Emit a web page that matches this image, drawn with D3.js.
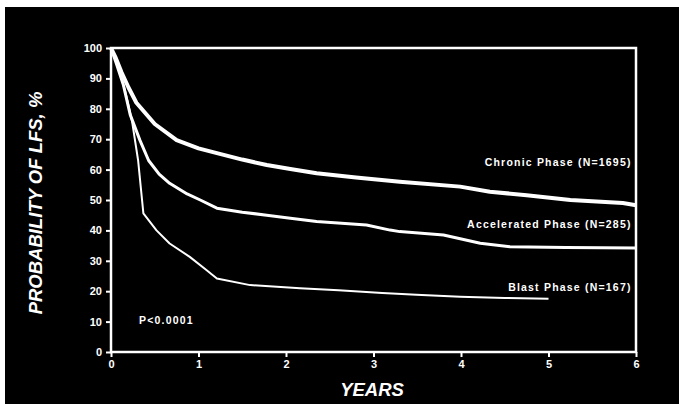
<!DOCTYPE html>
<html><head><meta charset="utf-8">
<script src="https://cdn.jsdelivr.net/npm/d3@7/dist/d3.min.js"></script>
<style>body{margin:0;background:#fff}svg{display:block}</style>
</head><body>
<svg id="c" width="679" height="404"></svg>
<script>
const xTicks = [0,1,2,3,4,5,6];
const yTicks = [0,10,20,30,40,50,60,70,80,90,100];
const seriesNames = ["Chronic Phase (N=1695)", "Accelerated Phase (N=285)", "Blast Phase (N=167)"];
const chronicYears = [0,0.05,0.12,0.2,0.29,0.5,0.75,1.0,1.21,1.5,1.78,2.05,2.35,2.8,3.3,3.99,4.33,4.75,5.25,5.85,6.0];
const chronicVals  = [100,97,92,87,82,75,69.7,67,65.4,63.3,61.5,60.2,58.8,57.4,56,54.4,52.7,51.6,50,49,48.3];
const accelYears = [0,0.06,0.14,0.22,0.33,0.43,0.55,0.67,0.87,1.02,1.21,1.5,1.78,2.05,2.35,2.92,3.19,3.3,3.8,4.22,4.56,5.2,6.0];
const accelVals  = [100,95,88,78,69.7,63,58.5,55.5,52,50,47.3,46,45,44,42.9,41.8,40.1,39.6,38.5,35.8,34.6,34.4,34.2];
const blastYears = [0,0.08,0.16,0.24,0.31,0.37,0.52,0.67,0.9,1.09,1.21,1.59,2.16,2.6,3.1,3.49,3.99,4.5,5.0];
const blastVals  = [100,94,86,76,63,45.6,40,35.7,31.3,27,24.2,22,21,20.3,19.4,18.8,18.2,17.8,17.5];
const pText = "P<0.0001";

const svg = d3.select("#c");
svg.append("rect").attr("x",5).attr("y",7).attr("width",674).attr("height",397).attr("fill","#000");

const m = {l:111, r:636, t:48, b:352};
const x = d3.scaleLinear().domain([0,6]).range([m.l,m.r]);
const y = d3.scaleLinear().domain([0,100]).range([m.b,m.t]);

svg.append("rect").attr("x",m.l).attr("y",m.t).attr("width",m.r-m.l).attr("height",m.b-m.t)
  .attr("fill","none").attr("stroke","#fff").attr("stroke-width",2.5);

const fontTick = "'Liberation Sans', Arial, sans-serif";
const xa = svg.append("g").attr("transform",`translate(0,${m.b})`)
  .call(d3.axisBottom(x).tickValues(xTicks).tickFormat(d3.format("d")).tickSize(5).tickPadding(3));
const ya = svg.append("g").attr("transform",`translate(${m.l},0)`)
  .call(d3.axisLeft(y).tickValues(yTicks).tickFormat(d3.format("d")).tickSize(5).tickPadding(4));
[xa,ya].forEach(a=>{
  a.select(".domain").remove();
  a.selectAll("line").attr("stroke","#fff").attr("stroke-width",2);
  a.selectAll("text").attr("fill","#fff").attr("font-family",fontTick).attr("font-size",11).attr("font-weight","bold");
});

const line = d3.line().x(d=>x(d[0])).y(d=>y(d[1]));
const data = [
  {pts: d3.zip(chronicYears, chronicVals), w:4},
  {pts: d3.zip(accelYears, accelVals), w:3},
  {pts: d3.zip(blastYears, blastVals), w:2}
];
data.forEach(s=>{
  svg.append("path").attr("d",line(s.pts)).attr("fill","none").attr("stroke","#fff")
    .attr("stroke-width",s.w).attr("stroke-linejoin","round");
});

const lab = [
  {t:seriesNames[0], xv:5.95, yv:61.2},
  {t:seriesNames[1], xv:5.95, yv:40.8},
  {t:seriesNames[2], xv:5.95, yv:20}
];
lab.forEach(l=>{
  svg.append("text").attr("x",x(l.xv)).attr("y",y(l.yv)).attr("text-anchor","end")
    .attr("fill","#fff").attr("font-family",fontTick).attr("font-size",10.5).attr("font-weight","bold")
    .attr("letter-spacing",1.2).text(l.t);
});
svg.append("text").attr("x",x(0.32)).attr("y",y(9.3)).attr("fill","#fff")
  .attr("font-family",fontTick).attr("font-size",10.5).attr("font-weight","bold").attr("letter-spacing",1.2).text(pText);

svg.append("text").attr("x",372).attr("y",396).attr("text-anchor","middle")
  .attr("fill","#fff").attr("font-family","'Liberation Sans', Arial, sans-serif").attr("font-size",18.5)
  .attr("font-weight","bold").attr("font-style","italic").text("YEARS");
svg.append("text").attr("transform",`translate(42,203) rotate(-90)`).attr("text-anchor","middle")
  .attr("fill","#fff").attr("font-family","'Liberation Sans', Arial, sans-serif").attr("font-size",18.5)
  .attr("font-weight","bold").attr("font-style","italic").text("PROBABILITY OF LFS, %");
</script>
</body></html>
